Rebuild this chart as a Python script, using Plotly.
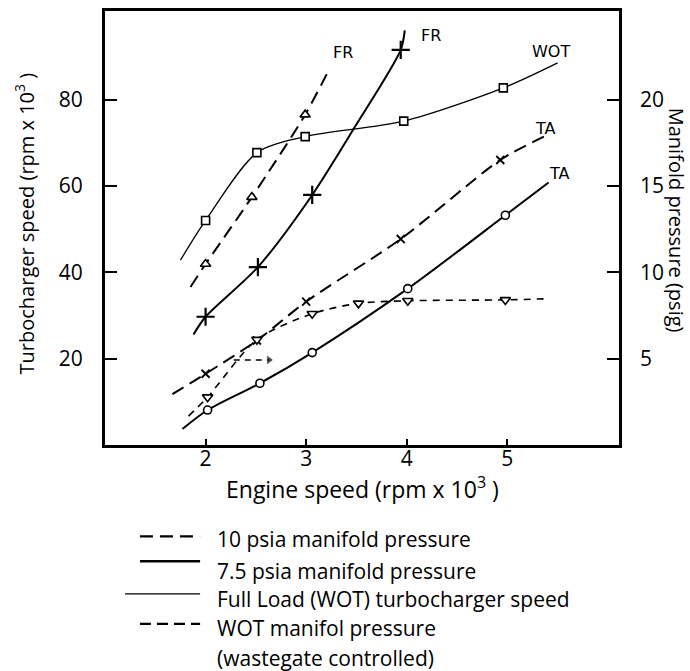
import plotly.graph_objects as go

# ---- data (engine speed in 10^3 rpm, turbo speed in 10^3 rpm, manifold pressure in psig)
# 10 psia manifold pressure, FR (dashed, triangles)
fr10_x = [1.85, 2.0, 2.46, 2.99, 3.22]
fr10_y = [36.6, 41.9, 57.4, 76.5, 86.6]
fr10_mx = [2.0, 2.46, 2.99]
fr10_my = [41.9, 57.4, 76.5]

# 7.5 psia manifold pressure, FR (solid, plus)
fr75_x = [1.88, 2.0, 2.52, 3.06, 3.48, 3.94, 3.98]
fr75_y = [25.6, 29.7, 41.2, 57.9, 73.5, 91.5, 96.0]
fr75_mx = [2.0, 2.52, 3.06, 3.94]
fr75_my = [29.7, 41.2, 57.9, 91.5]

# Full load (WOT) turbocharger speed (thin solid, squares)
wot_x = [1.75, 2.0, 2.51, 2.99, 3.97, 4.96, 5.5]
wot_y = [42.8, 52.0, 67.7, 71.4, 75.0, 82.7, 88.5]
wot_mx = [2.0, 2.51, 2.99, 3.97, 4.96]
wot_my = [52.0, 67.7, 71.4, 75.0, 82.7]

# 10 psia manifold pressure, TA (dashed, x)
ta10_x = [1.67, 2.0, 2.51, 3.0, 3.94, 4.93, 5.38]
ta10_y = [11.8, 16.5, 24.2, 33.2, 47.7, 66.0, 71.6]
ta10_mx = [2.0, 2.51, 3.0, 3.94, 4.93]
ta10_my = [16.5, 24.2, 33.2, 47.7, 66.0]

# 7.5 psia manifold pressure, TA (solid, circles)
ta75_x = [1.77, 2.02, 2.54, 3.06, 4.01, 4.98, 5.41]
ta75_y = [3.7, 8.1, 14.3, 21.4, 36.2, 53.2, 60.8]
ta75_mx = [2.02, 2.54, 3.06, 4.01, 4.98]
ta75_my = [8.1, 14.3, 21.4, 36.2, 53.2]

# WOT manifold pressure, wastegate controlled (right axis, psig)
mp_x = [1.83, 2.02, 2.51, 3.06, 3.52, 4.01, 4.98, 5.41]
mp_y = [1.67, 2.77, 6.1, 7.6, 8.2, 8.35, 8.4, 8.47]
mp_mx = [2.02, 2.51, 3.06, 3.52, 4.01, 4.98]
mp_my = [2.77, 6.1, 7.6, 8.2, 8.35, 8.4]

# small arrow branch (left-axis units)
arrow_x = [2.28, 2.63]
arrow_y = [19.7, 19.7]

x_ticks = [2, 3, 4, 5]
y_ticks = [20, 40, 60, 80]
y2_ticks = [5, 10, 15, 20]

curve_labels = ["FR", "FR", "WOT", "TA", "TA"]
label_x = [3.37, 4.24, 5.43, 5.38, 5.52]
label_y = [90.8, 94.9, 91.2, 73.3, 62.9]

legend_texts = ["10 psia manifold pressure", "7.5 psia manifold pressure",
                "Full Load (WOT) turbocharger speed", "WOT manifol pressure",
                "(wastegate controlled)"]

FONT = "Open Sans"
BLK = "black"
Y_MAX = 100.5

fig = go.Figure()

def curve(x, y, dash, width, yaxis="y"):
    fig.add_trace(go.Scatter(x=x, y=y, mode="lines", yaxis=yaxis,
                             line=dict(color=BLK, width=width, dash=dash, shape="spline", smoothing=0.8),
                             showlegend=False, hoverinfo="skip"))

def marks(x, y, symbol, size=9, yaxis="y", lw=1.6):
    fig.add_trace(go.Scatter(x=x, y=y, mode="markers", yaxis=yaxis,
                             marker=dict(symbol=symbol, size=size, color="white",
                                         line=dict(color=BLK, width=lw)),
                             showlegend=False, hoverinfo="skip"))

DASH_L = "13px,7px"
DASH_S = "7px,6px"

curve(fr10_x, fr10_y, DASH_L, 2)
curve(fr75_x, fr75_y, "solid", 2)
curve(wot_x, wot_y, "solid", 1.3)
curve(ta10_x, ta10_y, DASH_L, 2)
curve(ta75_x, ta75_y, "solid", 2)
curve(mp_x, mp_y, DASH_S, 1.6, yaxis="y2")

fig.add_trace(go.Scatter(x=arrow_x, y=arrow_y, mode="lines+markers",
                         line=dict(color=BLK, width=1.6, dash="6px,5px"),
                         marker=dict(symbol=["circle", "triangle-right"], size=[0, 9], color=BLK),
                         showlegend=False, hoverinfo="skip"))

marks(fr10_mx, fr10_my, "triangle-up", 9)
marks(fr75_mx, fr75_my, "cross-thin", 13, lw=2.2)
marks(wot_mx, wot_my, "square", 8)
marks(ta10_mx, ta10_my, "x-thin", 8, lw=1.8)
marks(ta75_mx, ta75_my, "circle", 8)
marks(mp_mx, mp_my, "triangle-down", 9, yaxis="y2")

for t, x, y in zip(curve_labels, label_x, label_y):
    fig.add_annotation(x=x, y=y, xref="x", yref="y", text=t, showarrow=False,
                       font=dict(family="DejaVu Sans", size=16, color=BLK))

# axis titles
fig.add_annotation(x=-0.156, y=0.51, xref="paper", yref="paper", textangle=-90,
                   xanchor="center", yanchor="middle",
                   text="Turbocharger speed (rpm x 10<sup>3</sup> )", showarrow=False,
                   font=dict(family=FONT, size=20, color=BLK))
fig.add_annotation(x=1.1109, y=0.519, xref="paper", yref="paper", textangle=90,
                   xanchor="center", yanchor="middle",
                   text="Manifold pressure (psig)", showarrow=False,
                   font=dict(family=FONT, size=20, color=BLK))
fig.add_annotation(x=0.5, y=-0.098, xref="paper", yref="paper",
                   xanchor="center", yanchor="middle",
                   text="Engine speed (rpm x 10<sup>3</sup> )", showarrow=False,
                   font=dict(family=FONT, size=23, color=BLK))

# custom legend below the chart
leg_lines = [(0.068, 0.185, -0.2105, DASH_L, 2.2),
             (0.068, 0.185, -0.268, "solid", 2.6),
             (0.039, 0.185, -0.343, "solid", 1.3),
             (0.068, 0.185, -0.412, "11px,6px", 2.2)]
for x0, x1, y, d, w in leg_lines:
    fig.add_shape(type="line", xref="paper", yref="paper", x0=x0, x1=x1, y0=y, y1=y,
                  line=dict(color=BLK, width=w, dash=d))
leg_y = [-0.217, -0.291, -0.355, -0.4211, -0.4897]
for t, y in zip(legend_texts, leg_y):
    fig.add_annotation(x=0.214, y=y, xref="paper", yref="paper", text=t, showarrow=False,
                       xanchor="left", yanchor="middle",
                       font=dict(family=FONT, size=21, color=BLK))

fig.update_layout(
    width=690, height=671,
    margin=dict(l=105, r=71, t=8, b=226),
    paper_bgcolor="white", plot_bgcolor="white",
    showlegend=False,
    xaxis=dict(range=[1.0, 6.11], tickvals=x_ticks, ticks="inside", ticklen=6, tickwidth=2,
               tickcolor=BLK, showline=True, linewidth=3, linecolor=BLK, mirror=True,
               showgrid=False, zeroline=False, ticklabelstandoff=-7,
               tickfont=dict(family=FONT, size=21, color=BLK)),
    yaxis=dict(range=[0, Y_MAX], tickvals=y_ticks, ticks="inside", ticklen=12, tickwidth=2,
               tickcolor=BLK, showline=True, linewidth=3, linecolor=BLK, mirror=True,
               showgrid=False, zeroline=False, ticklabelstandoff=15,
               tickfont=dict(family=FONT, size=21, color=BLK)),
    yaxis2=dict(range=[0, Y_MAX / 4], tickvals=y2_ticks, ticks="inside", ticklen=12, tickwidth=2,
                tickcolor=BLK, overlaying="y", side="right", showline=False,
                showgrid=False, zeroline=False, ticklabelstandoff=20,
                tickfont=dict(family=FONT, size=21, color=BLK)),
)

fig.write_html("out.html")
